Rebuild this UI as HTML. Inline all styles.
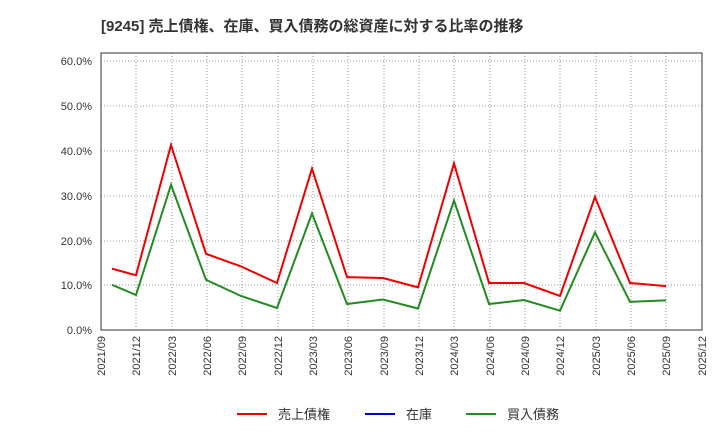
<!DOCTYPE html>
<html><head><meta charset="utf-8"><style>
body{margin:0;background:#fff;}
svg text{font-family:"Liberation Sans","Noto Sans CJK JP",sans-serif;}
</style></head><body>
<svg width="720" height="440" xmlns="http://www.w3.org/2000/svg">
<rect width="720" height="440" fill="#fff"/>
<text x="101" y="31" font-size="15" font-weight="bold" fill="#333">[9245]  売上債権、在庫、買入債務の総資産に対する比率の推移</text>
<g stroke="#999" stroke-dasharray="1,2" stroke-width="1">
<line x1="101" y1="61" x2="702" y2="61"/><line x1="101" y1="106" x2="702" y2="106"/><line x1="101" y1="151" x2="702" y2="151"/><line x1="101" y1="196" x2="702" y2="196"/><line x1="101" y1="241" x2="702" y2="241"/><line x1="101" y1="285" x2="702" y2="285"/>
<line x1="136" y1="53" x2="136" y2="330"/><line x1="172" y1="53" x2="172" y2="330"/><line x1="207" y1="53" x2="207" y2="330"/><line x1="242" y1="53" x2="242" y2="330"/><line x1="278" y1="53" x2="278" y2="330"/><line x1="313" y1="53" x2="313" y2="330"/><line x1="348" y1="53" x2="348" y2="330"/><line x1="384" y1="53" x2="384" y2="330"/><line x1="419" y1="53" x2="419" y2="330"/><line x1="454" y1="53" x2="454" y2="330"/><line x1="490" y1="53" x2="490" y2="330"/><line x1="525" y1="53" x2="525" y2="330"/><line x1="560" y1="53" x2="560" y2="330"/><line x1="596" y1="53" x2="596" y2="330"/><line x1="631" y1="53" x2="631" y2="330"/><line x1="666" y1="53" x2="666" y2="330"/>
</g>
<rect x="101" y="53" width="601" height="277" fill="none" stroke="#333" stroke-width="1"/>
<g font-size="11" fill="#333" text-anchor="end">
<text x="92" y="65">60.0%</text><text x="92" y="110">50.0%</text><text x="92" y="155">40.0%</text><text x="92" y="200">30.0%</text><text x="92" y="245">20.0%</text><text x="92" y="289">10.0%</text><text x="92" y="334">0.0%</text>
</g>
<g font-size="11" fill="#333" text-anchor="end">
<text transform="translate(105,336) rotate(-90)">2021/09</text><text transform="translate(140,336) rotate(-90)">2021/12</text><text transform="translate(176,336) rotate(-90)">2022/03</text><text transform="translate(211,336) rotate(-90)">2022/06</text><text transform="translate(246,336) rotate(-90)">2022/09</text><text transform="translate(282,336) rotate(-90)">2022/12</text><text transform="translate(317,336) rotate(-90)">2023/03</text><text transform="translate(352,336) rotate(-90)">2023/06</text><text transform="translate(388,336) rotate(-90)">2023/09</text><text transform="translate(423,336) rotate(-90)">2023/12</text><text transform="translate(458,336) rotate(-90)">2024/03</text><text transform="translate(494,336) rotate(-90)">2024/06</text><text transform="translate(529,336) rotate(-90)">2024/09</text><text transform="translate(564,336) rotate(-90)">2024/12</text><text transform="translate(600,336) rotate(-90)">2025/03</text><text transform="translate(635,336) rotate(-90)">2025/06</text><text transform="translate(670,336) rotate(-90)">2025/09</text><text transform="translate(706,336) rotate(-90)">2025/12</text>
</g>
<polyline fill="none" stroke="#e00" stroke-width="2" points="112,268.6 136,275.3 171,145 206,253.8 241,266.4 277,283 312,168.7 347,277.1 383,278 418,287.4 454,163.3 489,283 524,283 560,296 595,197 630,283 666,286.1"/>
<polyline fill="none" stroke="#228b22" stroke-width="2" points="112,284.8 136,295 171,184.8 206,279.8 241,296 277,308 312,213.5 347,304 383,299.5 418,308.5 454,200.5 489,304 524,300 560,310.7 595,232.3 630,301.8 666,300.4"/>
<line x1="237" y1="414" x2="267" y2="414" stroke="#e00" stroke-width="2"/>
<text x="278" y="419" font-size="13" fill="#333">売上債権</text>
<line x1="365" y1="414" x2="395" y2="414" stroke="#00c" stroke-width="2"/>
<text x="406" y="419" font-size="13" fill="#333">在庫</text>
<line x1="466" y1="414" x2="496" y2="414" stroke="#228b22" stroke-width="2"/>
<text x="507" y="419" font-size="13" fill="#333">買入債務</text>
</svg>
</body></html>
